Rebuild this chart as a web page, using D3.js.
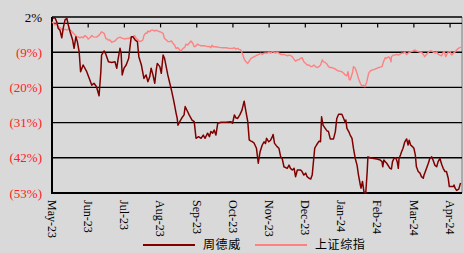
<!DOCTYPE html>
<html>
<head>
<meta charset="utf-8">
<script src="https://cdn.jsdelivr.net/npm/d3@7"></script>
<style>
  html, body { margin: 0; padding: 0; background: #d9d9d9; }
  svg { display: block; }
</style>
</head>
<body>
<div id="chart"></div>
<script>
// x values are months since May-23 (0 = start of May-23)
const months = ['May-23', 'Jun-23', 'Jul-23', 'Aug-23', 'Sep-23', 'Oct-23',
                'Nov-23', 'Dec-23', 'Jan-24', 'Feb-24', 'Mar-24', 'Apr-24'];
const yTicks = [2, -9, -20, -31, -42, -53];
const seriesNames = ['周德威', '上证综指'];

// 周德威 cumulative return, %
const zdw = [
  [0.02, 1.6], [0.08, 1.8], [0.13, 0.5], [0.17, -1.5], [0.22, -2.1], [0.27, -4.5], [0.31, -1.5],
  [0.36, 1.1], [0.41, 1.6], [0.45, -0.5], [0.50, -2.6], [0.57, -5.2], [0.61, -7.8], [0.66, -4.2],
  [0.70, -5.7], [0.75, -8.8], [0.79, -15.1], [0.86, -13], [0.96, -15.1], [1.03, -17.2], [1.10, -19.3],
  [1.16, -18.7], [1.23, -19.8], [1.30, -22.6], [1.35, -15.1], [1.37, -9.9], [1.44, -8.6], [1.49, -9.7],
  [1.56, -12], [1.65, -12.2], [1.74, -12], [1.79, -14], [1.83, -10.9], [1.88, -7.8], [1.91, -9.3],
  [1.94, -16.1], [1.99, -14], [2.05, -13], [2.12, -10.9], [2.15, -7.8], [2.19, -4.2], [2.24, -4.2],
  [2.30, -5.2], [2.36, -5.7], [2.40, -10.4], [2.47, -13], [2.54, -17.2], [2.60, -16.1], [2.65, -18.2],
  [2.70, -16.7], [2.74, -14], [2.79, -16.1], [2.84, -18.7], [2.88, -14.6], [2.91, -12.5], [2.98, -13.5],
  [3.02, -15.6], [3.07, -9.9], [3.11, -10.9], [3.20, -16.1], [3.30, -20.8], [3.37, -24.5], [3.43, -28.1],
  [3.46, -29.7], [3.48, -31.8], [3.53, -30.7], [3.59, -29.5], [3.65, -28.6], [3.68, -26], [3.70, -26.5],
  [3.75, -27.6], [3.79, -28.6], [3.87, -30.2], [3.93, -30.7], [3.98, -35.9], [4.05, -35.4], [4.12, -35.9],
  [4.18, -34.9], [4.23, -35.9], [4.30, -34.3], [4.35, -35.4], [4.39, -33.8], [4.44, -34.3], [4.48, -33.3],
  [4.53, -34.9], [4.58, -31.2], [4.67, -30.9], [4.81, -30.9], [4.94, -30.7], [4.99, -31.2], [5.04, -28.6],
  [5.08, -29.5], [5.13, -29.7], [5.19, -28.6], [5.25, -27.1], [5.31, -24.3], [5.36, -27.6], [5.41, -30.7],
  [5.45, -36.4], [5.50, -36.8], [5.54, -37], [5.58, -37.3], [5.65, -39], [5.70, -43.7], [5.75, -40.1],
  [5.81, -38], [5.86, -37], [5.90, -37.5], [5.93, -35.9], [5.99, -37], [6.04, -36.5], [6.09, -35.4],
  [6.11, -34.7], [6.15, -37.5], [6.22, -38.5], [6.27, -39], [6.32, -41.7], [6.36, -42.2], [6.41, -44.8],
  [6.50, -45.3], [6.55, -44.3], [6.59, -45.3], [6.64, -45.8], [6.69, -45.3], [6.73, -47.9], [6.78, -45.8],
  [6.87, -45.8], [6.91, -46.3], [6.96, -47.4], [7.01, -46.8], [7.05, -47.9], [7.10, -48.4], [7.15, -48.6],
  [7.19, -47.4], [7.26, -39], [7.31, -38], [7.38, -36.8], [7.42, -37], [7.45, -29.2], [7.49, -31.8],
  [7.55, -32.8], [7.60, -33.6], [7.64, -33.8], [7.69, -36.1], [7.78, -36.1], [7.83, -33.8], [7.87, -29.7],
  [7.92, -28.4], [8.01, -28.4], [8.06, -29.7], [8.10, -30.9], [8.12, -30.2], [8.15, -32.8], [8.20, -33.8],
  [8.24, -34.9], [8.29, -35.9], [8.33, -39], [8.38, -42.2], [8.43, -44.3], [8.47, -47.4], [8.52, -50.5],
  [8.54, -51.5], [8.58, -49.4], [8.62, -52.6], [8.67, -53.1], [8.71, -46.3], [8.73, -41.7], [8.79, -42],
  [8.89, -42.2], [8.98, -42.4], [9.07, -42.7], [9.12, -43.2], [9.14, -44.8], [9.17, -42.7], [9.21, -43.2],
  [9.25, -43.7], [9.34, -45.3], [9.38, -45.5], [9.41, -43.2], [9.45, -42.2], [9.50, -42], [9.54, -43.2],
  [9.57, -45.3], [9.59, -42.2], [9.63, -41.1], [9.66, -40.1], [9.70, -39], [9.75, -37], [9.80, -36.1],
  [9.84, -38], [9.87, -36.5], [9.91, -38], [9.96, -38.5], [10.00, -39], [10.04, -41.1], [10.07, -44.8],
  [10.12, -46.3], [10.17, -46.8], [10.21, -47.9], [10.26, -48.4], [10.28, -47.4], [10.30, -46.8],
  [10.35, -45.3], [10.40, -43.7], [10.44, -42.2], [10.49, -41.7], [10.53, -42.7], [10.58, -44.3],
  [10.63, -44.8], [10.67, -43.2], [10.72, -42.2], [10.77, -44.1], [10.81, -45.3], [10.86, -46.3],
  [10.90, -46.3], [10.95, -48.4], [10.98, -51], [11.04, -51], [11.09, -51], [11.11, -50.5], [11.14, -51.5],
  [11.18, -52.2], [11.24, -51.8], [11.26, -51], [11.29, -49.9]
];

// 上证综指 cumulative return, %
const szzs = [
  [0.00, 0.5], [0.04, 0.0], [0.08, -0.5], [0.13, 0.0], [0.17, -1.0], [0.22, -1.3], [0.27, -1.8],
  [0.31, -2.1], [0.36, -1.8], [0.41, -2.1], [0.45, -1.8], [0.50, -2.1], [0.54, -2.4], [0.59, -3.1],
  [0.64, -3.6], [0.68, -4.3], [0.73, -4.2], [0.77, -4.5], [0.82, -4.2], [0.86, -4.5], [0.91, -3.8],
  [0.96, -4.2], [1.00, -4.9], [1.05, -4.5], [1.10, -3.8], [1.14, -4.2], [1.23, -4.3], [1.31, -3.6],
  [1.37, -2.6], [1.44, -3.1], [1.49, -4.7], [1.56, -5.2], [1.60, -5.2], [1.65, -5.9], [1.69, -5.7],
  [1.74, -5.5], [1.79, -4.9], [1.83, -4.5], [1.88, -4.3], [1.91, -4.5], [1.96, -4.7], [2.01, -4.9],
  [2.05, -4.7], [2.10, -4.7], [2.19, -4.5], [2.24, -4.2], [2.28, -3.8], [2.33, -4.7], [2.38, -5.2],
  [2.42, -5.7], [2.47, -5.5], [2.51, -5.2], [2.54, -3.8], [2.58, -3.1], [2.62, -3.1], [2.65, -2.4],
  [2.70, -2.6], [2.74, -2.1], [2.79, -2.1], [2.84, -2.4], [2.88, -2.1], [2.93, -2.4], [2.98, -2.6],
  [3.02, -2.8], [3.07, -3.1], [3.11, -4.7], [3.16, -5.2], [3.20, -5.7], [3.25, -5.7], [3.30, -5.5],
  [3.34, -6.2], [3.39, -6.8], [3.43, -7.8], [3.48, -7.6], [3.53, -8.3], [3.57, -8.6], [3.62, -7.8],
  [3.67, -7.5], [3.70, -6.5], [3.75, -6.8], [3.79, -6.2], [3.84, -5.5], [3.89, -6.2], [3.93, -7.3],
  [3.98, -7.0], [4.02, -6.5], [4.07, -6.8], [4.12, -7.0], [4.16, -7.0], [4.21, -7.0], [4.25, -7.1],
  [4.30, -7.2], [4.35, -7.2], [4.39, -7.6], [4.42, -6.8], [4.46, -7.3], [4.53, -7.3], [4.62, -7.5],
  [4.72, -7.6], [4.81, -7.6], [4.90, -7.8], [4.99, -7.8], [5.04, -7.6], [5.08, -8.0], [5.13, -7.8],
  [5.17, -8.1], [5.22, -8.3], [5.27, -9.7], [5.31, -11.1], [5.36, -12.0], [5.41, -12.5], [5.45, -11.8],
  [5.50, -10.9], [5.54, -10.7], [5.59, -10.4], [5.64, -10.1], [5.67, -9.9], [5.72, -9.7], [5.76, -9.3],
  [5.81, -9.7], [5.86, -9.3], [5.90, -9.2], [5.95, -9.3], [6.00, -9.0], [6.04, -9.3], [6.09, -8.8],
  [6.13, -9.0], [6.18, -9.3], [6.22, -9.0], [6.27, -9.3], [6.32, -9.7], [6.36, -9.7], [6.41, -9.7],
  [6.46, -9.9], [6.50, -10.1], [6.55, -9.9], [6.59, -10.1], [6.64, -10.4], [6.68, -11.1], [6.73, -11.8],
  [6.78, -11.4], [6.82, -11.4], [6.87, -10.9], [6.91, -10.7], [6.96, -12.0], [7.01, -12.5], [7.05, -13.0],
  [7.10, -13.0], [7.15, -13.5], [7.19, -13.5], [7.24, -13.0], [7.28, -13.5], [7.33, -13.8], [7.38, -13.5],
  [7.42, -13.0], [7.47, -11.4], [7.50, -12.0], [7.55, -12.2], [7.60, -12.7], [7.64, -13.5], [7.69, -13.8],
  [7.73, -13.8], [7.78, -14.0], [7.83, -14.3], [7.87, -14.6], [7.92, -14.9], [7.96, -14.9], [8.01, -15.1],
  [8.06, -15.6], [8.10, -16.1], [8.15, -16.4], [8.18, -15.1], [8.21, -17.4], [8.24, -17.7], [8.27, -16.7],
  [8.31, -15.1], [8.33, -13.5], [8.38, -14.0], [8.43, -15.6], [8.47, -17.2], [8.52, -18.7], [8.56, -19.5],
  [8.61, -19.3], [8.65, -19.8], [8.70, -18.2], [8.75, -15.6], [8.79, -14.9], [8.84, -14.6], [8.93, -14.3],
  [9.02, -13.8], [9.12, -13.5], [9.16, -12.0], [9.21, -10.7], [9.25, -10.9], [9.30, -10.4], [9.34, -10.9],
  [9.37, -12.0], [9.38, -10.4], [9.43, -9.9], [9.48, -9.9], [9.52, -9.7], [9.57, -9.9], [9.61, -9.7],
  [9.66, -9.3], [9.71, -9.3], [9.75, -9.0], [9.80, -9.7], [9.84, -9.3], [9.89, -9.0], [9.93, -8.8],
  [9.98, -8.6], [10.03, -8.3], [10.07, -8.6], [10.12, -8.8], [10.17, -9.0], [10.21, -9.0], [10.26, -9.7],
  [10.30, -10.4], [10.35, -9.7], [10.40, -9.0], [10.44, -8.6], [10.49, -8.6], [10.54, -9.0], [10.59, -9.3],
  [10.63, -9.0], [10.68, -9.7], [10.72, -9.9], [10.77, -10.1], [10.81, -9.0], [10.84, -8.8], [10.88, -10.4],
  [10.91, -9.7], [10.95, -9.0], [11.00, -8.8], [11.04, -9.9], [11.09, -9.3], [11.13, -9.0], [11.18, -8.3],
  [11.23, -7.8], [11.27, -7.6], [11.30, -7.4]
];

const W = 464, H = 253;
const plot = {left: 52, right: 462, top: 17, bottom: 193};

const x = d3.scaleLinear().domain([0, 11.33]).range([plot.left, plot.right]);
const y = d3.scaleLinear().domain([-53, 2]).range([plot.bottom, plot.top]);

const svg = d3.select('#chart').append('svg')
  .attr('width', W)
  .attr('height', H);

svg.append('rect')
  .attr('width', W).attr('height', H)
  .attr('fill', '#d9d9d9');

// plot frame (right side)
svg.append('line')
  .attr('x1', plot.right).attr('x2', plot.right)
  .attr('y1', plot.top).attr('y2', plot.bottom)
  .attr('stroke', '#7f7f7f').attr('stroke-width', 1);

// horizontal gridlines
svg.append('g')
  .selectAll('line')
  .data(yTicks)
  .enter().append('line')
    .attr('x1', plot.left).attr('x2', plot.right)
    .attr('y1', d => y(d)).attr('y2', d => y(d))
    .attr('stroke', '#000')
    .attr('stroke-width', d => d === -53 ? 2 : 1.4);

// y labels
const fmt = v => v >= 0 ? v + '%' : '(' + (-v) + '%)';
svg.append('g')
  .selectAll('text')
  .data(yTicks)
  .enter().append('text')
    .attr('x', 42)
    .attr('y', d => y(d))
    .attr('dy', '0.35em')
    .attr('text-anchor', 'end')
    .attr('font-family', '"Liberation Serif", serif')
    .attr('font-size', 13)
    .attr('fill', d => d >= 0 ? '#000' : '#ff2020')
    .text(fmt);

// zero axis with month ticks pointing down
svg.append('line')
  .attr('x1', plot.left).attr('x2', plot.right)
  .attr('y1', y(0)).attr('y2', y(0))
  .attr('stroke', '#000').attr('stroke-width', 1.4);

svg.append('g')
  .selectAll('line')
  .data(months)
  .enter().append('line')
    .attr('x1', (d, i) => x(i)).attr('x2', (d, i) => x(i))
    .attr('y1', y(0)).attr('y2', y(0) + 4)
    .attr('stroke', '#000').attr('stroke-width', 1.2);

// left axis
svg.append('line')
  .attr('x1', plot.left).attr('x2', plot.left)
  .attr('y1', plot.top).attr('y2', plot.bottom + 1)
  .attr('stroke', '#000').attr('stroke-width', 2);

// month labels, rotated
svg.append('g')
  .selectAll('text')
  .data(months)
  .enter().append('text')
    .attr('transform', (d, i) => `translate(${x(i)},200) rotate(90)`)
    .attr('dy', '0.35em')
    .attr('font-family', '"Liberation Serif", serif')
    .attr('font-size', 12)
    .attr('fill', '#000')
    .text(d => d);

// series lines
const line = d3.line()
  .x(d => x(d[0]))
  .y(d => y(d[1]));

svg.append('path')
  .datum(szzs)
  .attr('d', line)
  .attr('fill', 'none')
  .attr('stroke', '#ff8080')
  .attr('stroke-width', 1.4)
  .attr('stroke-linejoin', 'round');

svg.append('path')
  .datum(zdw)
  .attr('d', line)
  .attr('fill', 'none')
  .attr('stroke', '#800000')
  .attr('stroke-width', 1.5)
  .attr('stroke-linejoin', 'round');

// legend
const legend = svg.append('g').attr('transform', 'translate(0,245)');
const legendItems = [
  {name: seriesNames[0], color: '#800000', x0: 143},
  {name: seriesNames[1], color: '#ff8080', x0: 255}
];
legendItems.forEach(it => {
  legend.append('line')
    .attr('x1', it.x0).attr('x2', it.x0 + 52)
    .attr('y1', 0).attr('y2', 0)
    .attr('stroke', it.color).attr('stroke-width', 2);
  legend.append('text')
    .attr('x', it.x0 + 60)
    .attr('y', 0)
    .attr('dy', '0.35em')
    .attr('font-family', '"Noto Sans CJK SC", sans-serif')
    .attr('font-size', 12)
    .attr('letter-spacing', 0.6)
    .attr('fill', '#000')
    .text(it.name);
});
</script>
</body>
</html>
